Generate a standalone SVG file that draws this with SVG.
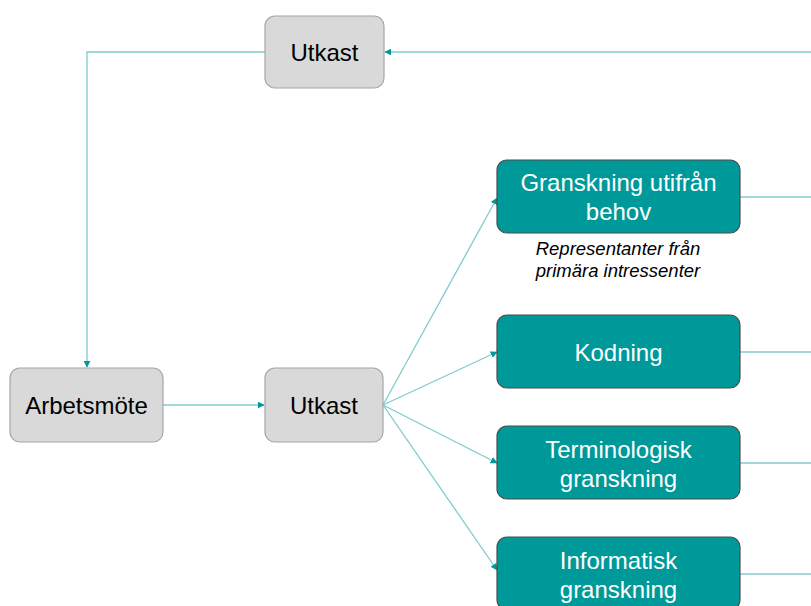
<svg xmlns="http://www.w3.org/2000/svg" width="811" height="606" viewBox="0 0 811 606">
<style>
.gray{fill:#d9d9d9;stroke:#a6a6a6;stroke-width:1.2}
.teal{fill:#009999;stroke:#4d4d4d;stroke-width:1.2}
.t{font-family:"Liberation Sans",Arial,sans-serif;font-size:24px;text-anchor:middle}
.dk{fill:#000}
.wt{fill:#fff}
.note{font-family:"Liberation Sans",Arial,sans-serif;font-size:18.5px;font-style:italic;text-anchor:middle;fill:#000}
.c{fill:none;stroke:#7fcccc;stroke-width:1.3}
</style>
<defs>
<marker id="a" viewBox="0 0 10 10" refX="9" refY="5" markerWidth="7" markerHeight="7" markerUnits="userSpaceOnUse" orient="auto">
<path d="M0,0 L10,5 L0,10 z" fill="#009999"/>
</marker>
</defs>
<g id="connectors">
<path class="c" d="M811,52 L385,52" marker-end="url(#a)"/>
<path class="c" d="M265,52 L87,52 L87,367" marker-end="url(#a)"/>
<path class="c" d="M163,405 L264,405" marker-end="url(#a)"/>
<path class="c" d="M383,405 L497,198" marker-end="url(#a)"/>
<path class="c" d="M383,405 L497,352" marker-end="url(#a)"/>
<path class="c" d="M383,405 L497,463" marker-end="url(#a)"/>
<path class="c" d="M383,405 L497,570" marker-end="url(#a)"/>
<path class="c" d="M740,197 L811,197"/>
<path class="c" d="M740,352 L811,352"/>
<path class="c" d="M740,463 L811,463"/>
<path class="c" d="M740,574 L811,574"/>
</g>
<g id="utkast-top">
<rect class="gray" x="265" y="16" width="119" height="72" rx="10"/>
<text class="t dk" x="324.5" y="61">Utkast</text>
</g>
<g id="arbetsmote">
<rect class="gray" x="10" y="368" width="153" height="74" rx="10"/>
<text class="t dk" x="86.5" y="414">Arbetsmöte</text>
</g>
<g id="utkast-mid">
<rect class="gray" x="265" y="368" width="118" height="74" rx="10"/>
<text class="t dk" x="324" y="414">Utkast</text>
</g>
<g id="granskning">
<rect class="teal" x="497" y="160" width="243" height="73" rx="10"/>
<text class="t wt" x="618.5" y="191">Granskning utifrån</text>
<text class="t wt" x="618.5" y="220">behov</text>
</g>
<g id="note">
<text class="note" x="618" y="255">Representanter från</text>
<text class="note" x="618" y="277">primära intressenter</text>
</g>
<g id="kodning">
<rect class="teal" x="497" y="315" width="243" height="73" rx="10"/>
<text class="t wt" x="618.5" y="361">Kodning</text>
</g>
<g id="terminologisk">
<rect class="teal" x="497" y="426" width="243" height="73" rx="10"/>
<text class="t wt" x="618.5" y="458">Terminologisk</text>
<text class="t wt" x="618.5" y="487">granskning</text>
</g>
<g id="informatisk">
<rect class="teal" x="497" y="537" width="243" height="73" rx="10"/>
<text class="t wt" x="618.5" y="569">Informatisk</text>
<text class="t wt" x="618.5" y="598">granskning</text>
</g>
</svg>
